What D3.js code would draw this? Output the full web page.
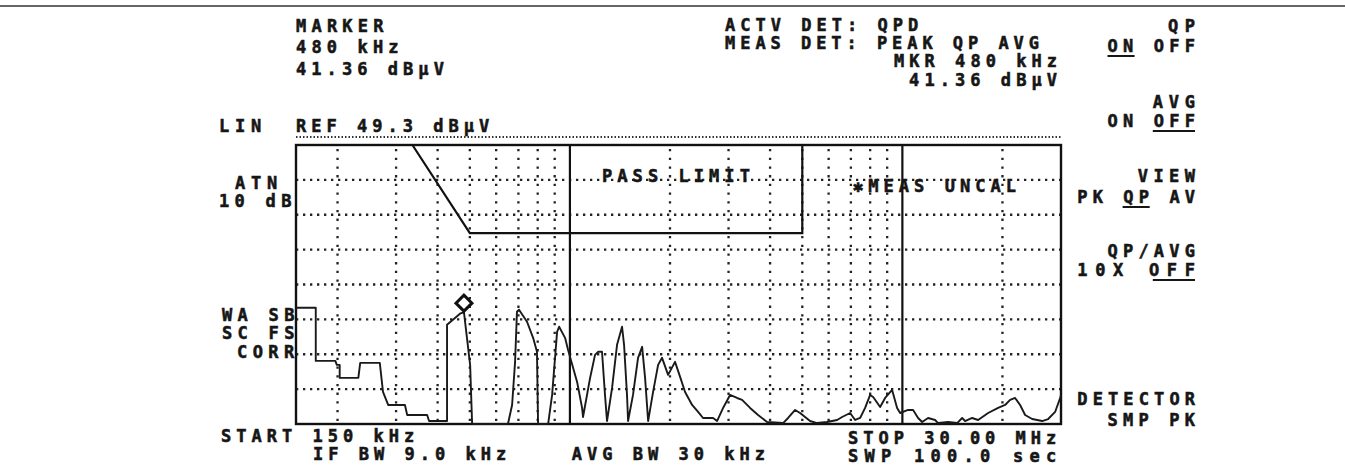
<!DOCTYPE html>
<html>
<head>
<meta charset="utf-8">
<script src="https://cdn.jsdelivr.net/npm/d3@7"></script>
<style>
  body { margin: 0; background: #fff; }
  text { font-family: "DejaVu Sans Mono", monospace; font-weight: bold; font-size: 17px;
         fill: #161616; stroke: #161616; stroke-width: 0.55px; }
</style>
</head>
<body>
<script>
// trace: frequency in kHz, level in µV (LIN display)
const freqKHz = [150, 172, 172, 197, 199, 203, 203, 231, 234, 268, 274, 284, 319, 324, 372, 377, 427, 427, 467, 480,
  501, 508, 651, 670, 684, 693, 703, 743, 775, 796, 802, 860, 884, 915, 928, 967, 987, 1051, 1088, 1095,
  1150, 1190, 1215, 1249, 1275, 1293, 1339, 1386, 1435, 1455, 1485, 1496, 1548, 1603, 1649, 1683, 1719,
  1779, 1842, 1893, 1974, 2071, 2145, 2220, 2331, 2430, 2514, 2695, 2771, 2889, 3032, 3183, 3295, 3483,
  3681, 3918, 4377, 4532, 4757, 4924, 5277, 5540, 5937, 6363, 6588, 6963, 7208, 7462, 7725, 7999, 8168,
  8572, 8874, 9314, 9641, 9844, 10406, 10772, 11150, 11465, 11951, 12543, 12807, 13730, 14612, 15125,
  15440, 16210, 16898, 18108, 19406, 20370, 21090, 21830, 22600, 23400, 24570, 26330, 27450, 28800, 29820, 30000];
const levelUv = [121.6, 121.6, 66.0, 66.0, 61.8, 61.8, 48.2, 48.2, 63.9, 63.9, 33.5, 19.9, 19.9, 9.4, 9.4, 3.1, 3.1, 103.8, 115.3, 116.9,
  61.8, 0, 0, 19.9, 65.0, 117.4, 119.5, 106.9, 90.1, 75.5, 0, 0, 30.4, 96.4, 101.7, 90.1, 77.6, 44.0, 16.8, 7.3,
  48.2, 72.3, 75.5, 75.5, 30.4, 3.1, 37.7, 82.8, 101.7, 82.8, 30.4, 3.1, 30.4, 69.2, 80.7, 48.2, 3.1,
  33.5, 61.8, 69.2, 51.4, 65.0, 49.3, 33.5, 19.9, 12.6, 6.3, 6.3, 3.1, 16.8, 30.4, 27.2, 25.2, 16.8,
  9.4, 2.1, 1.0, 6.3, 14.7, 11.5, 3.1, 1.0, 2.1, 4.2, 7.3, 11.5, 4.2, 6.3, 16.8, 30.4, 28.3,
  17.8, 27.2, 35.6, 16.8, 11.5, 14.7, 14.7, 6.3, 2.1, 6.3, 4.2, 1.0, 2.1, 1.0, 6.3,
  3.1, 6.3, 4.2, 11.5, 16.8, 19.9, 25.2, 27.2, 19.9, 9.4, 5.2, 3.1, 5.2, 12.6, 27.2, 30.4];

// pass limit line (dBµV), clipped at the reference level
const limitKHz = [336, 500, 5000, 5000];
const limitDbuv = [49.3, 46, 46, 49.3];

const refDbuv = 49.3;
const markerKHz = 480;
const markerDbuv = 41.36;

// graticule
const gridKHz = [200, 300, 400, 500, 600, 700, 800, 900, 2000, 3000, 4000, 5000, 6000, 7000, 8000, 9000, 20000];
const majorKHz = [1000, 10000];
const yDivisions = 8;

const dbToUv = db => Math.pow(10, db / 20);

let svgWidth = 1345, svgHeight = 470;
let plot = {left: 296, right: 1061, top: 145, bottom: 424};

let svg = d3.select("body").append("svg")
  .attr("width", svgWidth)
  .attr("height", svgHeight);

// scales
let xScale = d3.scaleLog().domain([150, 30000]).range([plot.left, plot.right]);
let yScale = d3.scaleLinear().domain([0, dbToUv(refDbuv)]).range([plot.bottom, plot.top]);

// outer page line
svg.append("line").attr("x1", 0).attr("x2", svgWidth).attr("y1", 6).attr("y2", 6)
  .attr("stroke", "#333").attr("stroke-width", 1.5);

// horizontal dotted graticule
let yTicks = d3.range(1, yDivisions).map(i => dbToUv(refDbuv) * i / yDivisions);
svg.append("g").selectAll("line").data(yTicks).enter().append("line")
  .attr("x1", plot.left).attr("x2", plot.right)
  .attr("y1", d => yScale(d)).attr("y2", d => yScale(d))
  .attr("stroke", "#222").attr("stroke-width", 2.3).attr("stroke-dasharray", "2.3,4.7");

// vertical dotted graticule
svg.append("g").selectAll("line").data(gridKHz).enter().append("line")
  .attr("x1", d => xScale(d)).attr("x2", d => xScale(d))
  .attr("y1", plot.top + 4).attr("y2", plot.bottom)
  .attr("stroke", "#222").attr("stroke-width", 2.3).attr("stroke-dasharray", "2.3,6.4");

// decade lines
svg.append("g").selectAll("line").data(majorKHz).enter().append("line")
  .attr("x1", d => xScale(d)).attr("x2", d => xScale(d))
  .attr("y1", plot.top).attr("y2", plot.bottom)
  .attr("stroke", "#111").attr("stroke-width", 2.2);

// reference level dotted line
svg.append("line").attr("x1", plot.left).attr("x2", plot.right)
  .attr("y1", plot.top - 8).attr("y2", plot.top - 8)
  .attr("stroke", "#333").attr("stroke-width", 1.8).attr("stroke-dasharray", "1.5,2");

// frame
svg.append("rect").attr("x", plot.left).attr("y", plot.top)
  .attr("width", plot.right - plot.left).attr("height", plot.bottom - plot.top)
  .attr("fill", "none").attr("stroke", "#111").attr("stroke-width", 2.4);

// limit line
let limitLine = d3.line().x(d => xScale(d[0])).y(d => yScale(dbToUv(d[1])));
svg.append("path")
  .datum(limitKHz.map((f, i) => [f, limitDbuv[i]]))
  .attr("d", limitLine)
  .attr("fill", "none").attr("stroke", "#111").attr("stroke-width", 2.2);

// trace
svg.append("clipPath").attr("id", "clip").append("rect")
  .attr("x", plot.left).attr("y", plot.top).attr("width", plot.right - plot.left).attr("height", plot.bottom - plot.top + 1);
let traceLine = d3.line().x(d => xScale(d[0])).y(d => yScale(d[1]));
svg.append("path")
  .datum(freqKHz.map((f, i) => [f, levelUv[i]]))
  .attr("d", traceLine)
  .attr("clip-path", "url(#clip)")
  .attr("fill", "none").attr("stroke", "#1a1a1a").attr("stroke-width", 1.9).attr("stroke-linejoin", "round");

// marker diamond, sitting on the trace point
svg.append("path")
  .attr("transform", "translate(" + xScale(markerKHz) + "," + yScale(dbToUv(markerDbuv)) + ")")
  .attr("d", "M0,-1 L8,-9 L0,-17 L-8,-9 Z")
  .attr("fill", "none").attr("stroke", "#111").attr("stroke-width", 3);

// plotter style text: fixed pitch
const PITCH = 15.1, GLYPH = 12;
function label(str, x, y, opts) {
  opts = opts || {};
  let w = (str.length - 1) * PITCH + GLYPH;
  let x0 = opts.end ? x - w : x;
  svg.append("text").attr("x", x0).attr("y", y)
    .attr("textLength", w).attr("lengthAdjust", "spacing").text(str);
  if (opts.ul) {
    svg.append("line")
      .attr("x1", x0 + opts.ul[0] * PITCH).attr("x2", x0 + opts.ul[1] * PITCH + GLYPH)
      .attr("y1", y + 4).attr("y2", y + 4)
      .attr("stroke", "#161616").attr("stroke-width", 2);
  }
}

label("MARKER", 296, 32);
label("480 kHz", 296, 53);
label("41.36 dBµV", 296, 75);

label("ACTV DET: QPD", 725, 31);
label("MEAS DET: PEAK QP AVG", 725, 49);
label("MKR 480 kHz", 1057, 67, {end: true});
label("41.36 dBµV", 1057, 86, {end: true});

label("LIN", 219, 132);
label("REF 49.3 dBµV", 296, 132);

label("ATN", 235, 189);
label("10 dB", 219, 207);
label("WA SB", 222, 321);
label("SC FS", 222, 339);
label("CORR", 237, 358);

label("PASS LIMIT", 602, 182);
label("✱MEAS UNCAL", 853, 192);

label("START 150 kHz", 221, 442);
label("IF BW 9.0 kHz", 313, 460);
label("AVG BW 30 kHz", 765, 460, {end: true});
label("STOP 30.00 MHz", 848, 444);
label("SWP  100.0 sec", 848, 462);

label("QP", 1195, 32, {end: true});
label("ON OFF", 1195, 52, {end: true, ul: [0, 1]});
label("AVG", 1195, 108, {end: true});
label("ON OFF", 1195, 127, {end: true, ul: [3, 5]});
label("VIEW", 1195, 182, {end: true});
label("PK QP AV", 1195, 203, {end: true, ul: [3, 4]});
label("QP/AVG", 1195, 257, {end: true});
label("10X  OFF", 1195, 276, {end: true, ul: [5, 7]});
label("DETECTOR", 1195, 405, {end: true});
label("SMP PK", 1195, 426, {end: true});
</script>
</body>
</html>
